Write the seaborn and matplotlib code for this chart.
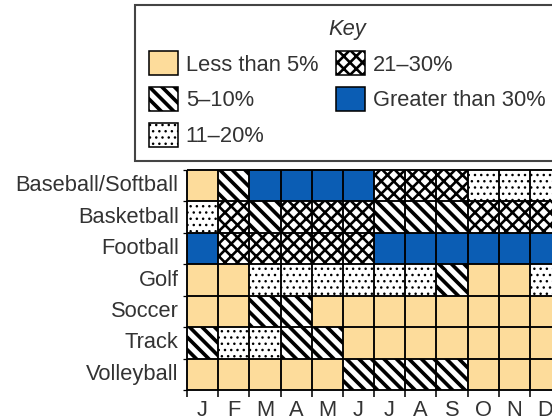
import numpy as np
import pandas as pd
import matplotlib
matplotlib.use("Agg")
import matplotlib.pyplot as plt
from matplotlib.colors import ListedColormap
from matplotlib.patches import Patch, Rectangle
import seaborn as sns

months = ["J", "F", "M", "A", "M", "J", "J", "A", "S", "O", "N", "D"]
sports = ["Baseball/Softball", "Basketball", "Football", "Golf",
          "Soccer", "Track", "Volleyball"]
levels = ["Less than 5%", "5–10%", "11–20%", "21–30%", "Greater than 30%"]

# level index per month (0 = <5%, 1 = 5-10%, 2 = 11-20%, 3 = 21-30%, 4 = >30%)
baseball = [0, 1, 4, 4, 4, 4, 3, 3, 3, 2, 2, 2]
basketball = [2, 3, 1, 3, 3, 3, 1, 1, 1, 3, 3, 3]
football = [4, 3, 3, 3, 3, 3, 4, 4, 4, 4, 4, 4]
golf = [0, 0, 2, 2, 2, 2, 2, 2, 1, 0, 0, 2]
soccer = [0, 0, 1, 1, 0, 0, 0, 0, 0, 0, 0, 0]
track = [1, 2, 2, 1, 1, 0, 0, 0, 0, 0, 0, 0]
volleyball = [0, 0, 0, 0, 0, 1, 1, 1, 1, 0, 0, 0]

level_colors = ["#FDDC9B", "white", "white", "white", "#0B5DB4"]
level_hatches = [None, "\\\\", "..", "xx", None]
hatch_widths = [0, 3.5, 1.2, 2.5, 0]

TEXT = "#333333"


def make_hatch(rect, lw):
    if hasattr(rect, "set_hatch_linewidth"):
        rect.set_hatch_linewidth(lw)
    return rect


def main() -> None:
    sns.set_style("white")
    plt.rcParams["font.family"] = ["Liberation Sans", "DejaVu Sans"]

    df = pd.DataFrame([baseball, basketball, football, golf, soccer, track, volleyball],
                      index=sports, columns=range(len(months)))

    fig = plt.figure(figsize=(552 / 75, 420 / 75), dpi=75)
    ax = fig.add_axes([187 / 552, 30 / 420, 374 / 552, 220 / 420])

    sns.heatmap(df, ax=ax, cmap=ListedColormap(level_colors), vmin=-0.5, vmax=4.5,
                cbar=False, linewidths=0, xticklabels=months, yticklabels=sports)

    # pattern overlays for the hatched levels
    for i, row in enumerate(df.values):
        for j, lev in enumerate(row):
            h = level_hatches[lev]
            if h is None:
                continue
            with plt.rc_context({"hatch.linewidth": hatch_widths[lev],
                                 "hatch.color": "black"}):
                r = Rectangle((j, i), 1, 1, facecolor="none", edgecolor="black",
                              linewidth=0, hatch=h)
                make_hatch(r, hatch_widths[lev])
                ax.add_patch(r)

    # cell borders
    nrow, ncol = df.shape
    ax.vlines(np.arange(ncol + 1), 0, nrow, color="black", lw=1.8, clip_on=False, zorder=5)
    ax.hlines(np.arange(nrow + 1), 0, ncol, color="black", lw=1.8, clip_on=False, zorder=5)

    ax.set_xticks(np.arange(ncol + 1), minor=True)
    ax.set_yticks(np.arange(nrow + 1), minor=True)
    ax.tick_params(which="minor", axis="x", length=7, width=1.5, color="black",
                   direction="out", bottom=True)
    ax.tick_params(which="minor", axis="y", length=4, width=1.2, color="black",
                   direction="out", left=True)
    ax.tick_params(which="major", length=0)
    ax.tick_params(axis="x", which="major", pad=10, labelsize=21, labelcolor=TEXT)
    ax.tick_params(axis="y", which="major", pad=8, labelsize=21, labelcolor=TEXT)
    plt.setp(ax.get_yticklabels(), rotation=0)
    plt.setp(ax.get_xticklabels(), rotation=0)
    ax.set_xlabel("")
    ax.set_ylabel("")

    # key
    handles = [Patch(facecolor=c, edgecolor="black", linewidth=1.5, hatch=h)
               for c, h in zip(level_colors, level_hatches)]
    with plt.rc_context({"hatch.linewidth": 2.5, "hatch.color": "black"}):
        leg = fig.legend(handles, levels, ncol=2, loc="upper left",
                         bbox_to_anchor=(135 / 552, 1 - 5 / 420), borderaxespad=0,
                         title="Key", fontsize=21,
                         title_fontproperties={"style": "italic", "size": 21},
                         frameon=True, fancybox=False, edgecolor="#444444",
                         framealpha=1, handlelength=1.35, handleheight=1.35,
                         handletextpad=0.35, columnspacing=0.8, labelspacing=0.52,
                         borderpad=0.62, labelcolor=TEXT)
    leg.get_title().set_color(TEXT)
    leg.get_frame().set_linewidth(2)
    for p, lev in zip(leg.get_patches(), range(len(levels))):
        if level_hatches[lev] is not None:
            make_hatch(p, hatch_widths[lev])

    fig.savefig("out.png", dpi=75)
    plt.close(fig)


if __name__ == "__main__":
    main()
